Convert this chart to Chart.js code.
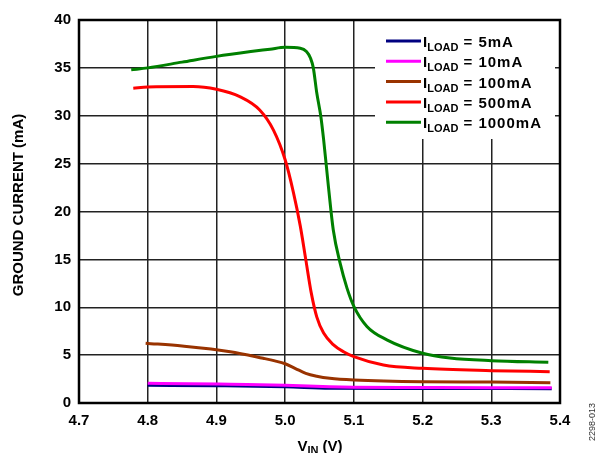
<!DOCTYPE html>
<html>
<head>
<meta charset="utf-8">
<script src="https://cdn.jsdelivr.net/npm/chart.js@4.4.1/dist/chart.umd.min.js"></script>
<style>
  html, body { margin: 0; padding: 0; background: #fff; }
  #wrap { position: relative; width: 598px; height: 453px; }
</style>
</head>
<body>
<div id="wrap"><canvas id="chart" width="598" height="453"></canvas></div>
<script>
const xTicks = [4.7, 4.8, 4.9, 5.0, 5.1, 5.2, 5.3, 5.4];
const yTicks = [0, 5, 10, 15, 20, 25, 30, 35, 40];

const loadNames = ['5mA', '10mA', '100mA', '500mA', '1000mA'];
const loadColors = ['#000080', '#ff00ff', '#993300', '#ff0000', '#008000'];

// V_IN (V) and ground current (mA) pairs
const vin5 = [4.8, 4.9, 5.0, 5.065, 5.2, 5.388];
const ig5 = [1.85, 1.8, 1.7, 1.55, 1.52, 1.5];

const vin10 = [4.8, 4.86, 4.92, 5.0, 5.065, 5.1, 5.2, 5.3, 5.388];
const ig10 = [2.05, 2.02, 1.95, 1.85, 1.7, 1.65, 1.62, 1.6, 1.6];

const vin100 = [4.797, 4.85, 4.92, 4.968, 4.985, 5.0, 5.015, 5.03, 5.046, 5.065, 5.1, 5.2, 5.3, 5.386];
const ig100 = [6.25, 5.95, 5.36, 4.67, 4.4, 4.1, 3.6, 3.1, 2.8, 2.58, 2.4, 2.22, 2.19, 2.12];

const vin500 = [4.779, 4.8, 4.866, 4.9, 4.934, 4.963, 4.983, 5.0, 5.012, 5.022, 5.03, 5.038, 5.046, 5.056, 5.07, 5.085, 5.1, 5.143, 5.2, 5.3, 5.385];
const ig500 = [32.87, 33.0, 33.05, 32.76, 32.0, 30.6, 28.5, 25.4, 22.0, 18.5, 15.0, 11.5, 9.0, 7.3, 6.1, 5.35, 4.84, 3.97, 3.62, 3.38, 3.27];

const vin1000 = [4.776, 4.8, 4.85, 4.9, 4.95, 4.978, 5.0, 5.022, 5.031, 5.037, 5.041, 5.046, 5.052, 5.056, 5.063, 5.07, 5.08, 5.09, 5.1, 5.119, 5.148, 5.2, 5.24, 5.3, 5.383];
const ig1000 = [34.8, 35.0, 35.6, 36.2, 36.7, 36.95, 37.15, 37.05, 36.7, 36.0, 35.0, 32.4, 29.9, 27.5, 22.6, 18.1, 14.6, 12.0, 10.1, 8.0, 6.6, 5.2, 4.7, 4.42, 4.25];

const series = [[vin5, ig5], [vin10, ig10], [vin100, ig100], [vin500, ig500], [vin1000, ig1000]];

const FONT = '"Liberation Sans", Arial, sans-serif';

function pts(xs, ys) {
    return xs.map((x, i) => ({ x, y: ys[i] }));
}

// white legend box with subscripted labels, the axis titles and the figure code
const decorations = {
    id: 'decorations',
    beforeDatasetsDraw(chart) {
        const ctx = chart.ctx;
        const a = chart.chartArea;
        ctx.save();
        ctx.fillStyle = '#fff';
        ctx.fillRect(a.right - 185, a.top + 1, 180, 118);
        loadNames.forEach((name, i) => {
            const y = a.top + 21 + i * 20.3;
            const x0 = a.right - 174;
            ctx.strokeStyle = loadColors[i];
            ctx.lineWidth = 3;
            ctx.beginPath();
            ctx.moveTo(x0, y);
            ctx.lineTo(x0 + 35, y);
            ctx.stroke();
            ctx.fillStyle = '#000';
            ctx.textBaseline = 'alphabetic';
            ctx.textAlign = 'left';
            let x = x0 + 37;
            ctx.font = 'bold 15px ' + FONT;
            ctx.fillText('I', x, y + 6);
            x += ctx.measureText('I').width;
            ctx.font = 'bold 11px ' + FONT;
            ctx.fillText('LOAD', x, y + 10);
            x += ctx.measureText('LOAD').width;
            ctx.font = 'bold 15px ' + FONT;
            ctx.letterSpacing = '1px';
            ctx.fillText(' = ' + name, x, y + 6);
            ctx.letterSpacing = '0px';
        });
        ctx.restore();
    },
    afterDraw(chart) {
        const ctx = chart.ctx;
        const a = chart.chartArea;
        ctx.save();
        ctx.strokeStyle = '#000';
        ctx.lineWidth = 2.5;
        ctx.strokeRect(a.left, a.top, a.right - a.left, a.bottom - a.top);

        // x title: V_IN (V)
        ctx.fillStyle = '#000';
        ctx.textBaseline = 'alphabetic';
        ctx.textAlign = 'left';
        ctx.font = 'bold 15px ' + FONT;
        const wV = ctx.measureText('V').width;
        const wP = ctx.measureText(' (V)').width;
        ctx.font = 'bold 11px ' + FONT;
        const wS = ctx.measureText('IN').width;
        let x = 320 - (wV + wS + wP) / 2;
        const by = 451;
        ctx.font = 'bold 15px ' + FONT;
        ctx.fillText('V', x, by);
        x += wV;
        ctx.font = 'bold 11px ' + FONT;
        ctx.fillText('IN', x, by + 3);
        x += wS;
        ctx.font = 'bold 15px ' + FONT;
        ctx.fillText(' (V)', x, by);

        // y title
        ctx.save();
        ctx.translate(19, 205);
        ctx.rotate(-Math.PI / 2);
        ctx.textAlign = 'center';
        ctx.textBaseline = 'middle';
        ctx.font = 'bold 15px ' + FONT;
        ctx.fillText('GROUND CURRENT (mA)', 0, 0);
        ctx.restore();

        // figure code
        ctx.save();
        ctx.translate(593, 422);
        ctx.rotate(-Math.PI / 2);
        ctx.textAlign = 'center';
        ctx.textBaseline = 'middle';
        ctx.fillStyle = '#333';
        ctx.font = '9px ' + FONT;
        ctx.fillText('2298-013', 0, 0);
        ctx.restore();
        ctx.restore();
    }
};

new Chart(document.getElementById('chart'), {
    type: 'line',
    data: {
        datasets: series.map((s, i) => ({
            label: 'ILOAD = ' + loadNames[i],
            data: pts(s[0], s[1]),
            borderColor: loadColors[i],
            borderWidth: 3,
            pointRadius: 0,
            fill: false,
            cubicInterpolationMode: 'monotone',
            order: 5 - i
        }))
    },
    options: {
        responsive: false,
        animation: false,
        layout: { padding: { left: 0, right: 38, top: 20, bottom: 0 } },
        plugins: { legend: { display: false }, tooltip: { enabled: false } },
        scales: {
            x: {
                type: 'linear',
                min: 4.7,
                max: 5.4,
                afterBuildTicks: s => { s.ticks = xTicks.map(v => ({ value: v })); },
                afterFit: s => { s.height = 50; },
                grid: { color: '#222', lineWidth: 1.5, drawTicks: false },
                border: { display: false },
                ticks: {
                    padding: 9,
                    color: '#000',
                    font: { family: FONT, size: 15, weight: 'bold' },
                    callback: v => Number(v).toFixed(1)
                }
            },
            y: {
                min: 0,
                max: 40,
                afterBuildTicks: s => { s.ticks = yTicks.map(v => ({ value: v })); },
                afterFit: s => { s.width = 79; },
                grid: { color: '#222', lineWidth: 1.5, drawTicks: false },
                border: { display: false },
                ticks: {
                    padding: 8,
                    color: '#000',
                    font: { family: FONT, size: 15, weight: 'bold' }
                }
            }
        }
    },
    plugins: [decorations]
});
</script>
</body>
</html>
